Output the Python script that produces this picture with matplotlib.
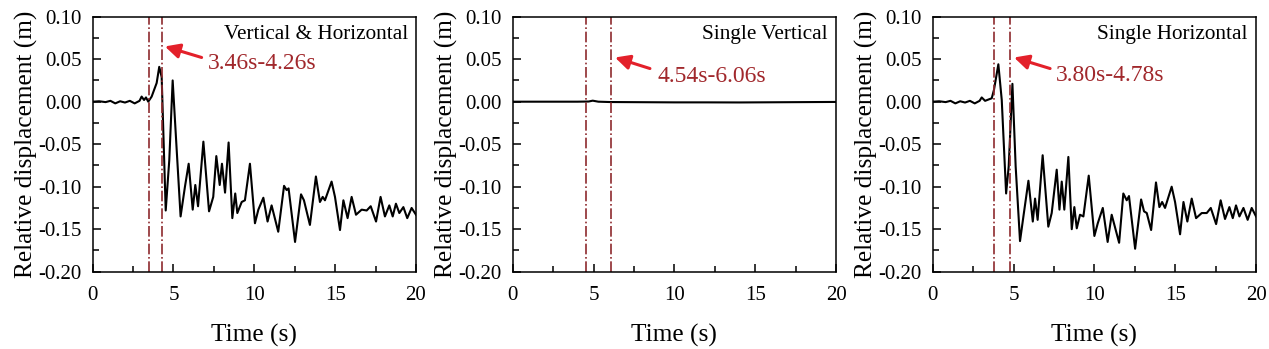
import matplotlib
matplotlib.use("Agg")
import matplotlib.pyplot as plt
from matplotlib.ticker import MultipleLocator

plt.rcParams['font.family'] = ['Liberation Serif', 'DejaVu Serif']
plt.rcParams['mathtext.fontset'] = 'stix'

# ---------------- data ----------------
t_vh = [0, 0.4, 0.8, 1.1, 1.4, 1.7, 2.0, 2.3, 2.6, 2.9, 3.03, 3.18, 3.30, 3.44, 3.65, 3.96, 4.12, 4.27,
        4.52, 4.74, 4.95, 5.20, 5.44, 5.71, 5.94, 6.19, 6.35, 6.52, 6.85, 7.20, 7.46, 7.65, 7.86, 8.00,
        8.19, 8.41, 8.64, 8.82, 8.95, 9.22, 9.42, 9.73, 10.04, 10.25, 10.56, 10.82, 11.07, 11.48, 11.84,
        12.00, 12.12, 12.52, 12.89, 13.07, 13.44, 13.81, 14.06, 14.23, 14.37, 14.78, 14.99, 15.30, 15.51,
        15.77, 16.02, 16.29, 16.64, 16.95, 17.20, 17.53, 17.81, 18.08, 18.35, 18.56, 18.76, 18.97, 19.22,
        19.46, 19.73, 20.0]
d_vh = [0, 0.0005, -0.0005, 0.001, -0.002, 0.0005, -0.001, 0.001, -0.002, 0.001, 0.006, 0.002, 0.005, 0.0,
        0.006, 0.022, 0.041, 0.029, -0.128, -0.069, 0.025, -0.057, -0.135, -0.100, -0.073, -0.127, -0.098,
        -0.123, -0.047, -0.129, -0.112, -0.064, -0.098, -0.073, -0.107, -0.048, -0.137, -0.108, -0.131,
        -0.118, -0.116, -0.073, -0.143, -0.127, -0.113, -0.141, -0.122, -0.153, -0.099, -0.104, -0.102,
        -0.165, -0.109, -0.116, -0.145, -0.088, -0.118, -0.112, -0.116, -0.094, -0.112, -0.151, -0.116,
        -0.137, -0.112, -0.133, -0.127, -0.128, -0.123, -0.141, -0.112, -0.135, -0.122, -0.135, -0.120,
        -0.131, -0.124, -0.137, -0.125, -0.133]

t_v = [0, 2.0, 4.0, 4.7, 4.95, 5.3, 6.0, 8.0, 10.0, 12.0, 14.0, 16.0, 18.0, 20.0]
d_v = [0, 0, 0, 0.0002, 0.0012, 0.0, -0.0004, -0.0006, -0.0008, -0.0008, -0.0009, -0.0007, -0.0005, -0.0003]

t_h = [0, 0.4, 0.8, 1.1, 1.4, 1.7, 2.0, 2.3, 2.6, 2.9, 3.03, 3.24, 3.51, 3.65, 3.79, 4.06, 4.27, 4.54, 4.70,
       4.93, 5.13, 5.40, 5.61, 5.92, 6.19, 6.33, 6.49, 6.80, 7.15, 7.36, 7.67, 7.84, 7.98, 8.14, 8.39,
       8.60, 8.76, 8.91, 9.11, 9.32, 9.65, 10.00, 10.21, 10.52, 10.82, 11.07, 11.53, 11.79, 12.00, 12.14,
       12.52, 12.89, 13.07, 13.24, 13.51, 13.81, 14.02, 14.19, 14.37, 14.78, 14.99, 15.30, 15.51, 15.75,
       16.02, 16.29, 16.64, 16.95, 17.20, 17.53, 17.81, 18.08, 18.35, 18.56, 18.76, 18.97, 19.22, 19.48,
       19.73, 20.0]
d_h = [0, 0.0005, -0.0005, 0.001, -0.002, 0.0005, -0.001, 0.001, -0.002, 0.001, 0.005, 0.001, 0.003, 0.004,
       0.014, 0.044, 0.002, -0.108, -0.076, 0.021, -0.076, -0.164, -0.135, -0.093, -0.141, -0.114, -0.139,
       -0.063, -0.147, -0.131, -0.080, -0.127, -0.094, -0.127, -0.065, -0.150, -0.124, -0.149, -0.133,
       -0.135, -0.087, -0.158, -0.143, -0.125, -0.165, -0.133, -0.166, -0.108, -0.116, -0.111, -0.173,
       -0.115, -0.129, -0.131, -0.151, -0.095, -0.124, -0.118, -0.125, -0.100, -0.118, -0.156, -0.118,
       -0.141, -0.114, -0.137, -0.131, -0.131, -0.125, -0.144, -0.116, -0.138, -0.124, -0.137, -0.122,
       -0.135, -0.125, -0.139, -0.125, -0.135]

titles = ["Vertical & Horizontal", "Single Vertical", "Single Horizontal"]
windows = [(3.46, 4.26), (4.54, 6.06), (3.80, 4.78)]
window_labels = ["3.46s-4.26s", "4.54s-6.06s", "3.80s-4.78s"]
xticks = [0, 5, 10, 15, 20]
yticks = [-0.20, -0.15, -0.10, -0.05, 0.00, 0.05, 0.10]

series = [(t_vh, d_vh), (t_v, d_v), (t_h, d_h)]
# arrow (head, tail) and text anchor positions in data coords
arrows = [((4.47, 0.065), (6.74, 0.052), (7.15, 0.045)),
          ((6.33, 0.052), (8.49, 0.039), (8.95, 0.030)),
          ((5.03, 0.052), (7.26, 0.039), (7.63, 0.031))]

fig = plt.figure(figsize=(12.69, 3.49), dpi=100)
lefts = [0.0730, 0.4040, 0.7350]
W, B, H = 0.2548, 0.2215, 0.7307

line_red = "#8e2a2e"
arrow_red = "#e3202a"
text_red = "#a1282c"

for i in range(3):
    ax = fig.add_axes([lefts[i], B, W, H])
    t, d = series[i]
    ax.plot(t, d, color='black', lw=1.5)
    for xv in windows[i]:
        ax.axvline(xv, color=line_red, lw=1.2, ls='-.')
    ax.set_xlim(0, 20)
    ax.set_ylim(-0.20, 0.10)
    ax.set_xticks(xticks)
    ax.set_yticks(yticks)
    ax.set_yticklabels([f"{v:.2f}" for v in yticks])
    ax.xaxis.set_minor_locator(MultipleLocator(2.5))
    ax.yaxis.set_minor_locator(MultipleLocator(0.025))
    ax.tick_params(which='both', direction='in', top=False, right=False, labelsize=15, width=1.1)
    ax.tick_params(which='major', length=6)
    ax.tick_params(which='minor', length=4)
    ax.tick_params(axis='x', pad=10)
    ax.tick_params(axis='y', pad=8)
    for s in ax.spines.values():
        s.set_linewidth(1.1)
    ax.set_xlabel("Time (s)", fontsize=18.3, labelpad=14)
    ax.set_ylabel("Relative displacement (m)", fontsize=18.3, labelpad=0)
    ax.text(0.975, 0.93, titles[i], transform=ax.transAxes, ha='right', va='center', fontsize=15.3)
    head, tail, tpos = arrows[i]
    ax.annotate("", xy=head, xytext=tail,
                arrowprops=dict(arrowstyle='-|>', color=arrow_red, lw=2.2, mutation_scale=22,
                                shrinkA=0, shrinkB=0))
    ax.text(tpos[0], tpos[1], window_labels[i], color=text_red, fontsize=17, ha='left', va='center')

fig.savefig("out.png", dpi=100)
